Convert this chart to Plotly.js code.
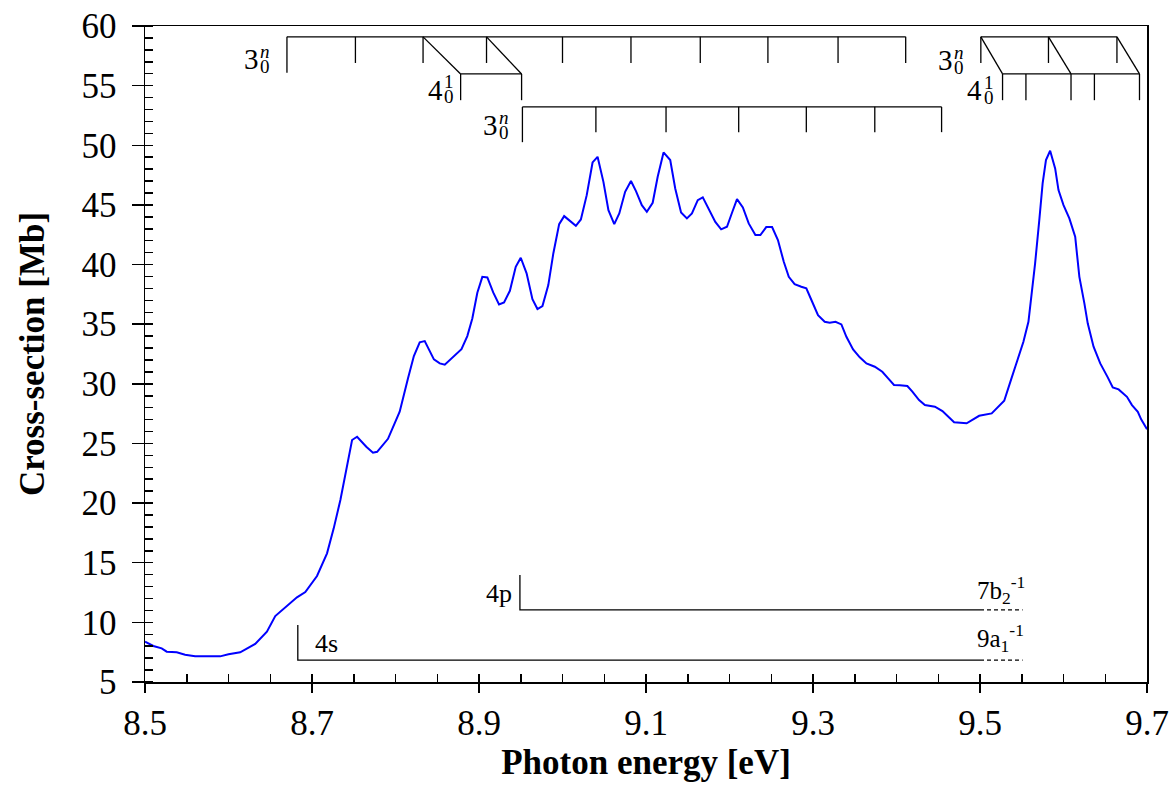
<!DOCTYPE html>
<html>
<head>
<meta charset="utf-8">
<script src="https://cdn.plot.ly/plotly-3.0.1.min.js"></script>
<style>html,body{margin:0;padding:0;background:#fff;}#chart{width:1172px;height:797px;}</style>
</head>
<body>
<div id="chart"></div>
<script>
// ---- spectrum data (photon energy in eV, cross-section in Mb) ----
const energy = [8.500,8.510,8.520,8.526,8.538,8.548,8.560,8.590,8.600,8.614,8.632,8.646,8.656,8.670,8.682,8.692,8.706,8.718,8.726,8.734,8.741,8.748,8.754,8.765,8.773,8.778,8.791,8.805,8.815,8.822,8.829,8.835,8.846,8.853,8.859,8.869,8.879,8.886,8.892,8.898,8.904,8.910,8.917,8.924,8.930,8.937,8.944,8.950,8.957,8.964,8.970,8.976,8.983,8.989,8.996,9.002,9.009,9.016,9.022,9.029,9.036,9.042,9.049,9.055,9.062,9.068,9.075,9.082,9.088,9.095,9.101,9.108,9.114,9.121,9.129,9.135,9.142,9.149,9.155,9.162,9.168,9.175,9.183,9.190,9.197,9.203,9.209,9.216,9.223,9.231,9.237,9.244,9.251,9.258,9.265,9.271,9.278,9.286,9.292,9.299,9.306,9.314,9.320,9.327,9.334,9.340,9.348,9.356,9.364,9.374,9.383,9.390,9.397,9.404,9.413,9.419,9.427,9.434,9.446,9.455,9.469,9.484,9.499,9.514,9.529,9.537,9.545,9.552,9.558,9.562,9.566,9.571,9.575,9.579,9.584,9.590,9.594,9.600,9.607,9.614,9.619,9.625,9.629,9.636,9.644,9.653,9.659,9.666,9.676,9.682,9.689,9.693,9.700];
const crossSection = [8.38,8.02,7.82,7.54,7.49,7.29,7.15,7.15,7.32,7.49,8.19,9.22,10.53,11.37,12.10,12.54,13.89,15.79,17.88,20.26,22.77,25.29,25.56,24.72,24.22,24.30,25.39,27.66,30.46,32.33,33.48,33.58,32.05,31.71,31.60,32.27,32.91,34.00,35.48,37.64,38.97,38.92,37.66,36.66,36.83,37.80,39.81,40.57,39.26,37.10,36.27,36.52,38.28,40.93,43.39,44.06,43.67,43.25,43.78,45.82,48.56,49.03,46.93,44.56,43.39,44.28,46.10,47.00,46.16,44.98,44.42,45.18,47.36,49.40,48.76,46.38,44.37,43.87,44.28,45.40,45.63,44.65,43.58,42.95,43.17,44.34,45.49,44.79,43.45,42.47,42.47,43.14,43.14,42.05,40.23,38.97,38.36,38.14,38.00,36.88,35.76,35.20,35.12,35.20,34.98,33.94,32.89,32.22,31.71,31.43,31.01,30.46,29.90,29.87,29.81,29.34,28.64,28.22,28.08,27.72,26.77,26.69,27.32,27.52,28.58,30.31,31.99,33.52,35.20,37.44,40.10,43.73,46.80,48.76,49.54,48.06,46.24,44.98,43.87,42.33,38.97,36.74,35.07,33.11,31.71,30.54,29.70,29.53,28.91,28.22,27.66,27.02,26.20];

// ---- vibrational progressions (band positions, eV) ----
const prog3nA = [8.670,8.752,8.833,8.909,9.000,9.082,9.165,9.246,9.330,9.411];
const prog41A = [8.878,8.951];
const prog3nB = [8.952,9.040,9.124,9.211,9.292,9.374,9.454];
const prog3nC = [9.501,9.582,9.664];
const prog41C = [9.527,9.555,9.609,9.637,9.691];
// links 3^n -> 4^1 (from, to)
const linkFrom = [8.833,8.909,9.501,9.582,9.664];
const linkTo   = [8.878,8.951,9.527,9.609,9.691];

// ---- Rydberg series onsets and ionisation limit (eV) ----
const rydbergOnset = [8.683, 8.949];   // 4s, 4p
const rydbergLabels = ['4s','4p'];
const ionLimit = 9.500;
const ionLimitEnd = 9.551;
const ionLabels = ['9a<sub>1</sub><sup>-1</sup>','7b<sub>2</sub><sup>-1</sup>'];

// ---- axis ticks ----
const xTickVals = [8.5,8.7,8.9,9.1,9.3,9.5,9.7];
const xTickText = ['8.5','8.7','8.9','9.1','9.3','9.5','9.7'];
const yTickVals = [5,10,15,20,25,30,35,40,45,50,55,60];

// ---- drawing levels for the assignment combs (Mb) ----
const LV = {
  topBase: 59.09, topTick: 56.9, topFirst: 56.07,
  midBase: 55.98, midTick: 53.78,
  lowBase: 53.22, lowTick: 51.10, lowFirst: 50.26,
  ryd: [[6.84, 9.78],[11.04, 13.97]]
};

function comb(es, base, tick, first) {
  const xs = [es[0], es[es.length-1], null], ys = [base, base, null];
  es.forEach((e, i) => { xs.push(e, e, null); ys.push(base, i === 0 && first != null ? first : tick, null); });
  return {xs, ys};
}
function addComb(acc, c) { acc.x.push(...c.xs); acc.y.push(...c.ys); }

const lines = {x: [], y: []};
addComb(lines, comb(prog3nA, LV.topBase, LV.topTick, LV.topFirst));
addComb(lines, comb(prog41A, LV.midBase, LV.midTick));
addComb(lines, comb(prog3nB, LV.lowBase, LV.lowTick, LV.lowFirst));
addComb(lines, comb(prog3nC, LV.topBase, LV.topTick));
addComb(lines, comb(prog41C, LV.midBase, LV.midTick));
linkFrom.forEach((f, i) => { lines.x.push(f, linkTo[i], null); lines.y.push(LV.topBase, LV.midBase, null); });
rydbergOnset.forEach((e, i) => {
  const [lo, hi] = LV.ryd[i];
  lines.x.push(e, e, ionLimit, null); lines.y.push(hi, lo, lo, null);
});
const dashed = {x: [], y: []};
rydbergOnset.forEach((e, i) => { const lo = LV.ryd[i][0]; dashed.x.push(ionLimit, ionLimitEnd, null); dashed.y.push(lo, lo, null); });

const FONT = 'Liberation Serif';
const traces = [
  {x: energy, y: crossSection, type: 'scatter', mode: 'lines', line: {color: '#0000ff', width: 2}, hoverinfo: 'skip', showlegend: false},
  {x: lines.x, y: lines.y, type: 'scatter', mode: 'lines', line: {color: '#000', width: 1.3}, hoverinfo: 'skip', showlegend: false, xaxis: 'x2'},
  {x: dashed.x, y: dashed.y, type: 'scatter', mode: 'lines', line: {color: '#000', width: 1.3, dash: '4px,3px'}, hoverinfo: 'skip', showlegend: false}
];

const annotations = [];
function stackLabel(x, y, base, sup, sub) {
  const common = {xref: 'x', yref: 'y', showarrow: false, xanchor: 'center', yanchor: 'middle'};
  annotations.push(Object.assign({x, y, text: base, font: {family: FONT, size: 29, color: '#000'}}, common));
  annotations.push(Object.assign({x, y, text: sup, xshift: 14, yshift: 8, font: {family: FONT, size: 19, color: '#000'}}, common));
  annotations.push(Object.assign({x, y, text: sub, xshift: 14, yshift: -7, font: {family: FONT, size: 19, color: '#000'}}, common));
}
stackLabel(8.6275, 57.22, '3', '<i>n</i>', '0');
stackLabel(8.8473, 54.67, '4', '1', '0');
stackLabel(8.9132, 51.69, '3', '<i>n</i>', '0');
stackLabel(9.4581, 57.14, '3', '<i>n</i>', '0');
stackLabel(9.4940, 54.62, '4', '1', '0');

annotations.push({x: 8.7168, y: 8.27, text: rydbergLabels[0], showarrow: false, xanchor: 'center', yanchor: 'middle', font: {family: FONT, size: 26, color: '#000'}});
annotations.push({x: 8.9240, y: 12.43, text: rydbergLabels[1], showarrow: false, xanchor: 'center', yanchor: 'middle', font: {family: FONT, size: 26, color: '#000'}});
annotations.push({x: 9.494, y: 8.69, text: ionLabels[0], showarrow: false, xanchor: 'left', yanchor: 'middle', font: {family: FONT, size: 25, color: '#000'}});
annotations.push({x: 9.494, y: 12.7, text: ionLabels[1], showarrow: false, xanchor: 'left', yanchor: 'middle', font: {family: FONT, size: 25, color: '#000'}});

const layout = {
  width: 1172, height: 797,
  margin: {l: 145, r: 25, t: 26, b: 115, pad: 0},
  paper_bgcolor: '#fff', plot_bgcolor: '#fff',
  font: {family: FONT, size: 34, color: '#000'},
  showlegend: false,
  xaxis: {
    range: [8.5, 9.7], tickvals: xTickVals, ticktext: xTickText,
    ticks: 'outside', ticklen: 9, tickwidth: 1.5, tickcolor: '#000',
    showline: true, linecolor: '#000', linewidth: 1.5, mirror: true,
    showgrid: false, zeroline: false,
    tickfont: {family: FONT, size: 35, color: '#000'},
    title: {text: '<b>Photon energy [eV]</b>', font: {family: FONT, size: 35, color: '#000'}, standoff: 3}
  },
  xaxis2: {
    range: [8.5, 9.7], overlaying: 'x', anchor: 'y', side: 'bottom',
    dtick: 0.05, tick0: 8.5, ticks: 'inside', ticklen: 8, tickwidth: 1.5, tickcolor: '#000',
    showticklabels: false, showline: false, showgrid: false, zeroline: false
  },
  yaxis: {
    range: [5, 60], tickvals: yTickVals,
    ticks: 'outside', ticklen: 12, tickwidth: 1.5, tickcolor: '#000',
    minor: {dtick: 1, ticks: 'inside', ticklen: 8, tickwidth: 1.5, tickcolor: '#000', showgrid: false},
    showline: true, linecolor: '#000', linewidth: 1.5, mirror: true,
    showgrid: false, zeroline: false, ticklabelstandoff: 8,
    tickfont: {family: FONT, size: 35, color: '#000'},
    title: {text: '<b>Cross-section [Mb]</b>', font: {family: FONT, size: 35, color: '#000'}, standoff: 26}
  },
  annotations
};

Plotly.newPlot('chart', traces, layout, {displayModeBar: false, staticPlot: true});
</script>
</body>
</html>
